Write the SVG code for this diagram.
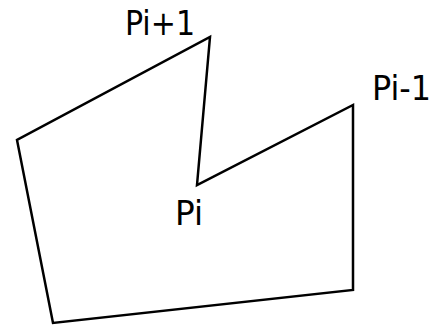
<svg xmlns="http://www.w3.org/2000/svg" width="433" height="328" viewBox="0 0 433 328">
<style>
.lbl{font-family:"DejaVu Sans Condensed","DejaVu Sans",Verdana,sans-serif;font-stretch:condensed;font-size:33px;fill:#000}
.edge{fill:none;stroke:#000;stroke-width:2.5;stroke-linejoin:miter}
</style>
<rect width="433" height="328" fill="#fff"/>
<g id="connectors">
<polygon class="edge" points="210,37 197,185 353,105 353,290 53,323 17,140"/>
</g>
<g id="node-pi1"><text class="lbl" x="125" y="35" textLength="70" lengthAdjust="spacingAndGlyphs">Pi+1</text></g>
<g id="node-pim1"><text class="lbl" x="372" y="100" textLength="59" lengthAdjust="spacingAndGlyphs">Pi-1</text></g>
<g id="node-pi"><text class="lbl" x="175" y="225" textLength="28" lengthAdjust="spacingAndGlyphs">Pi</text></g>
</svg>
